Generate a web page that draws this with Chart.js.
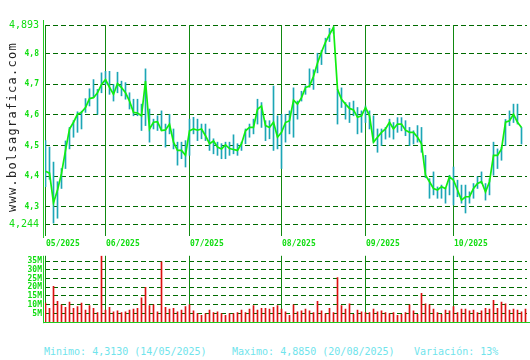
<!DOCTYPE html>
<html>
<head>
<meta charset="utf-8">
<script src="https://cdn.jsdelivr.net/npm/chart.js@4.4.1/dist/chart.umd.min.js"></script>
<style>
  body { margin: 0; background: #fff; }
  #wrap { position: relative; width: 530px; height: 360px; }
  #priceChart { position: absolute; left: 0; top: 0; }
  #volChart { position: absolute; left: 0; top: 248px; }
  .foot { position: absolute; top: 346px; font: 10px "DejaVu Sans Mono", monospace; line-height: 12px; color: #70e4ec; white-space: pre; }
</style>
</head>
<body>
<div id="wrap">
  <canvas id="priceChart" width="530" height="248"></canvas>
  <canvas id="volChart" width="530" height="82"></canvas>
  <div class="foot" style="left:44px">Minimo: 4,3130 (14/05/2025)</div>
  <div class="foot" style="left:232px">Maximo: 4,8850 (20/08/2025)</div>
  <div class="foot" style="left:414px">Variación: 13%</div>
</div>
<script>
// daily data, 12/05/2025 onwards (one entry per trading day)
const monthStarts = [0, 15, 36, 59, 80, 102];
const monthLabels = ["05/2025", "06/2025", "07/2025", "08/2025", "09/2025", "10/2025"];
const priceTicks = [4.244, 4.3, 4.4, 4.5, 4.6, 4.7, 4.8, 4.893];
const volTicks = [5, 10, 15, 20, 25, 30, 35];

const closes = [
  4.416, 4.410, 4.313, 4.355, 4.409, 4.484, 4.554, 4.576, 4.602, 4.608,
  4.624, 4.653, 4.656, 4.672, 4.699, 4.715, 4.690, 4.667, 4.702, 4.689,
  4.672, 4.645, 4.608, 4.606, 4.597, 4.710, 4.554, 4.576, 4.578, 4.549,
  4.551, 4.570, 4.511, 4.484, 4.484, 4.468, 4.548, 4.554, 4.550, 4.554,
  4.532, 4.506, 4.515, 4.495, 4.489, 4.502, 4.490, 4.487, 4.484, 4.506,
  4.548, 4.559, 4.559, 4.618, 4.629, 4.565, 4.559, 4.576, 4.527, 4.543,
  4.575, 4.581, 4.648, 4.635, 4.656, 4.689, 4.694, 4.726, 4.769, 4.805,
  4.837, 4.862, 4.885, 4.683, 4.651, 4.635, 4.621, 4.616, 4.592, 4.597,
  4.624, 4.597, 4.511, 4.527, 4.543, 4.554, 4.576, 4.554, 4.570, 4.570,
  4.550, 4.543, 4.543, 4.527, 4.506, 4.403, 4.382, 4.360, 4.355, 4.366,
  4.360, 4.398, 4.387, 4.355, 4.322, 4.333, 4.333, 4.360, 4.376, 4.382,
  4.349, 4.382, 4.468, 4.468, 4.489, 4.576, 4.581, 4.602, 4.576, 4.559
];
const highs = [
  4.516, 4.495, 4.446, 4.382, 4.425, 4.515, 4.559, 4.581, 4.610, 4.612,
  4.653, 4.685, 4.715, 4.683, 4.737, 4.742, 4.742, 4.699, 4.739, 4.710,
  4.705, 4.672, 4.651, 4.651, 4.635, 4.750, 4.619, 4.586, 4.597, 4.613,
  4.570, 4.602, 4.554, 4.511, 4.511, 4.516, 4.586, 4.592, 4.586, 4.570,
  4.570, 4.554, 4.522, 4.511, 4.506, 4.511, 4.511, 4.535, 4.506, 4.511,
  4.554, 4.570, 4.586, 4.651, 4.640, 4.581, 4.581, 4.694, 4.597, 4.602,
  4.602, 4.613, 4.688, 4.645, 4.677, 4.695, 4.750, 4.747, 4.801, 4.810,
  4.850, 4.882, 4.887, 4.683, 4.688, 4.640, 4.640, 4.645, 4.624, 4.613,
  4.629, 4.613, 4.597, 4.554, 4.554, 4.559, 4.586, 4.575, 4.591, 4.591,
  4.581, 4.559, 4.548, 4.565, 4.559, 4.468, 4.392, 4.414, 4.365, 4.371,
  4.360, 4.403, 4.430, 4.387, 4.371, 4.371, 4.349, 4.376, 4.398, 4.414,
  4.376, 4.392, 4.511, 4.489, 4.495, 4.585, 4.613, 4.635, 4.635, 4.559
];
const lows = [
  4.366, 4.390, 4.247, 4.263, 4.360, 4.425, 4.489, 4.527, 4.543, 4.554,
  4.608, 4.629, 4.656, 4.602, 4.672, 4.699, 4.667, 4.645, 4.672, 4.662,
  4.651, 4.619, 4.597, 4.597, 4.549, 4.565, 4.511, 4.554, 4.549, 4.549,
  4.495, 4.538, 4.489, 4.436, 4.457, 4.430, 4.468, 4.538, 4.516, 4.522,
  4.516, 4.484, 4.473, 4.468, 4.457, 4.457, 4.468, 4.473, 4.468, 4.484,
  4.506, 4.527, 4.538, 4.570, 4.559, 4.516, 4.522, 4.484, 4.489, 4.425,
  4.511, 4.538, 4.527, 4.586, 4.645, 4.667, 4.690, 4.683, 4.737, 4.764,
  4.801, 4.839, 4.866, 4.570, 4.624, 4.586, 4.575, 4.597, 4.538, 4.543,
  4.575, 4.554, 4.511, 4.478, 4.500, 4.521, 4.527, 4.521, 4.543, 4.548,
  4.532, 4.500, 4.505, 4.511, 4.478, 4.395, 4.328, 4.339, 4.328, 4.328,
  4.312, 4.339, 4.306, 4.333, 4.312, 4.280, 4.312, 4.328, 4.360, 4.376,
  4.322, 4.339, 4.403, 4.425, 4.452, 4.500, 4.565, 4.575, 4.570, 4.505
];
// volume in millions
const volumes = [
  11, 8, 20.5, 12, 10, 8.5, 11.5, 8, 9, 11,
  7, 9.5, 8, 5.5, 38, 7, 8.5, 6, 6.5, 5.5,
  6, 7, 7.5, 8, 14, 20, 9.5, 10, 6, 34.5,
  8.5, 7.5, 8, 6, 7, 9, 10, 6.5, 5, 4,
  5, 7, 5.5, 6, 5, 4, 5, 5, 5.5, 7,
  5.5, 7.5, 9.5, 7, 8, 8, 7.5, 8.5, 9.5, 7.5,
  6, 4, 10, 6, 6.5, 7.5, 6.5, 5.5, 12, 6.5,
  5, 8, 5.5, 25.5, 9.5, 7.5, 10.5, 4.5, 7, 6,
  5.5, 5.5, 7.5, 6, 6.5, 5.5, 5, 5.5, 4, 4.5,
  5.5, 10, 6.5, 4.5, 16.5, 10.5, 10, 7.5, 5.5, 4.5,
  7, 6.5, 9, 5.5, 7.5, 7.5, 6.5, 7, 5.5, 6.5,
  8, 7.5, 12.5, 8, 11.5, 10.5, 7, 7.5, 7, 6,
  7.5
];

const MONO = '"DejaVu Sans Mono", monospace';
const AXIS_GREEN = "#11dd11";

// x is a plain day index, 4px per day (no bar offset).
// day 0 sits half way into its first pixel so 1px bars land on whole pixels
function dayScale() {
  return { type: "linear", display: false, offset: false, min: -0.125, max: 120.375 };
}

// dashed horizontal grid, month lines and the bright left axis
function panelPlugin(hTicks, extra) {
  return {
    id: "panel",
    beforeDatasetsDraw(chart) {
      const { ctx, chartArea: a, scales: { x, y } } = chart;
      ctx.save();
      ctx.lineWidth = 1;
      ctx.strokeStyle = "#006a00";
      ctx.setLineDash([5, 3]);
      hTicks.forEach(v => {
        const py = Math.floor(y.getPixelForValue(v)) + 0.5;
        ctx.beginPath(); ctx.moveTo(a.left, py); ctx.lineTo(a.right, py); ctx.stroke();
      });
      ctx.setLineDash([]);
      ctx.strokeStyle = "#118811";
      monthStarts.forEach(i => {
        const px = Math.floor(x.getPixelForValue(i)) + 0.5;
        ctx.beginPath(); ctx.moveTo(px, a.top); ctx.lineTo(px, a.bottom); ctx.stroke();
      });
      ctx.restore();
    },
    afterDraw(chart) {
      const { ctx, chartArea: a, scales: { x } } = chart;
      ctx.save();
      ctx.strokeStyle = "#22cc22";
      ctx.lineWidth = 1;
      const lx = a.left - 1.5;
      ctx.beginPath(); ctx.moveTo(lx, extra.lineTop(a)); ctx.lineTo(lx, extra.lineBottom(a)); ctx.stroke();
      if (extra.after) extra.after(chart, ctx, a, x);
      ctx.restore();
    }
  };
}

// ---------- price panel ----------
new Chart(document.getElementById("priceChart"), {
  type: "bar",
  data: {
    datasets: [
      {
        type: "line",
        data: closes.map((c, i) => ({ x: i, y: c })),
        borderColor: "#11ee11",
        borderWidth: 1.7,
        pointRadius: 0,
        tension: 0,
        order: 0
      },
      {
        type: "bar",
        data: highs.map((h, i) => ({ x: i, y: [lows[i], h] })),
        backgroundColor: "#1ca6b6",
        barThickness: 1,
        order: 1
      }
    ]
  },
  options: {
    responsive: false,
    animation: false,
    layout: { padding: { left: 0, right: 3, top: 25, bottom: 10 } },
    plugins: { legend: { display: false }, tooltip: { enabled: false } },
    scales: {
      x: dayScale(),
      y: {
        min: 4.205,
        max: 4.893,
        afterBuildTicks: s => { s.ticks = priceTicks.map(v => ({ value: v })); },
        afterFit: s => { s.width = 45; },
        grid: { display: false, drawTicks: false },
        border: { display: false },
        ticks: {
          autoSkip: false,
          padding: 6,
          color: AXIS_GREEN,
          callback: v => String(v).replace(".", ","),
          font: c => (c.tick && (c.tick.value === 4.893 || c.tick.value === 4.244))
            ? { family: MONO, size: 10 }
            : { family: MONO, size: 8, weight: "bold" }
        }
      }
    }
  },
  plugins: [panelPlugin(priceTicks, {
    lineTop: a => a.top - 5,
    lineBottom: a => a.bottom + 2,
    after: (chart, ctx, a, x) => {
      // month labels under the price panel
      ctx.fillStyle = AXIS_GREEN;
      ctx.font = "bold 8px " + MONO;
      ctx.textBaseline = "middle";
      monthStarts.forEach((i, k) => {
        ctx.fillText(monthLabels[k], Math.floor(x.getPixelForValue(i)) + 1, 244);
      });
      // site name running up the left edge
      ctx.fillStyle = "#222";
      ctx.font = "12px " + MONO;
      ctx.textBaseline = "alphabetic";
      ctx.translate(16, 127);
      ctx.rotate(-Math.PI / 2);
      const txt = "www.bolsagrafica.com";
      for (let k = 0; k < txt.length; k++) {
        ctx.fillText(txt[k], -85 + k * 8.5, 0);
      }
    }
  })]
});

// ---------- volume panel ----------
new Chart(document.getElementById("volChart"), {
  type: "bar",
  data: {
    datasets: [{
      data: volumes.map((v, i) => ({ x: i, y: v })),
      backgroundColor: "#dd1111",
      barThickness: 1
    }]
  },
  options: {
    responsive: false,
    animation: false,
    layout: { padding: { left: 0, right: 3, top: 2, bottom: 4 } },
    plugins: { legend: { display: false }, tooltip: { enabled: false } },
    scales: {
      x: dayScale(),
      y: {
        min: 0,
        max: 38,
        afterBuildTicks: s => { s.ticks = volTicks.map(v => ({ value: v })); },
        afterFit: s => { s.width = 45; },
        grid: { display: false, drawTicks: false },
        border: { display: false },
        ticks: {
          autoSkip: false,
          padding: 3,
          color: AXIS_GREEN,
          callback: v => v + "M",
          font: { family: MONO, size: 8, weight: "bold" }
        }
      }
    }
  },
  plugins: [panelPlugin(volTicks, {
    lineTop: a => a.top,
    lineBottom: a => a.bottom + 1,
    after: (chart, ctx, a) => {
      const by = Math.floor(a.bottom) + 0.5;
      ctx.beginPath(); ctx.moveTo(a.left - 2, by); ctx.lineTo(530, by); ctx.stroke();
    }
  })]
});
</script>
</body>
</html>
